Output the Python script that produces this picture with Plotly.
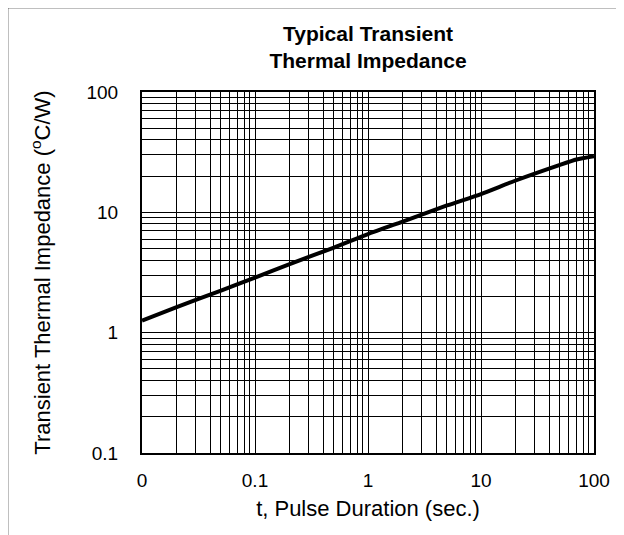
import plotly.graph_objects as go

# Data
t_sec = [0.01, 0.02, 0.05, 0.1, 0.2, 0.5, 1, 2, 5, 10, 20, 50, 70, 100]
z_cw = [1.26, 1.62, 2.24, 2.87, 3.69, 5.1, 6.6, 8.35, 11.4, 14.2, 18.3, 24.8, 27.5, 29.3]

x_major_vals = [0.01, 0.1, 1, 10, 100]
x_major_text = ["0", "0.1", "1", "10", "100"]
y_major_vals = [0.1, 1, 10, 100]
y_major_text = ["0.1", "1", "10", "100"]
x_minor_vals = [m * 10 ** e for e in range(-2, 2) for m in range(2, 10)]
y_minor_vals = [m * 10 ** e for e in range(-1, 2) for m in range(2, 10)]

# page body has an 8px margin in the browser
W, H = 616, 527
L, T, PW, PH = 134, 84, 452, 361

fig = go.Figure()
fig.add_trace(go.Scatter(
    x=t_sec, y=z_cw, mode="lines",
    line=dict(color="black", width=4, shape="spline", smoothing=0.6),
    showlegend=False, hoverinfo="x+y",
))

font = "Liberation Sans, Arial, sans-serif"
grid_minor = dict(showgrid=True, gridcolor="black", gridwidth=1, ticks="")
fig.update_layout(
    width=W, height=H,
    margin=dict(l=L, r=W - L - PW, t=T, b=H - T - PH),
    paper_bgcolor="white", plot_bgcolor="white",
    font=dict(family=font, size=19, color="black"),
    title=dict(
        text="<b>Typical Transient<br>Thermal Impedance</b>",
        x=0.5, xref="paper", xanchor="center",
        y=1 - 33 / H, yanchor="middle",
        font=dict(family=font, size=21, color="black"),
    ),
    xaxis=dict(
        type="log", range=[-2, 2],
        tickmode="array", tickvals=x_major_vals, ticktext=x_major_text,
        minor=dict(tickvals=x_minor_vals, **grid_minor),
        showgrid=True, gridcolor="black", gridwidth=1,
        showline=True, linecolor="black", linewidth=2, mirror=True,
        ticks="", ticklabelstandoff=9,
        zeroline=False,
        title=dict(text="t, Pulse Duration (sec.)", standoff=11,
                   font=dict(family=font, size=22, color="black")),
    ),
    yaxis=dict(
        type="log", range=[-1, 2],
        tickmode="array", tickvals=y_major_vals, ticktext=y_major_text,
        minor=dict(tickvals=y_minor_vals, **grid_minor),
        showgrid=True, gridcolor="black", gridwidth=1,
        showline=True, linecolor="black", linewidth=2, mirror=True,
        ticks="", ticklabelstandoff=18,
        zeroline=False,
        title=dict(text="Transient Thermal Impedance (<sup>o</sup>C/W)", standoff=30,
                   font=dict(family=font, size=22, color="black")),
    ),
)

# outer frame (top and left edges visible in the original image)
fx0 = (-1 - L) / PW
fy_top = 1 + (T + 1) / PH
fig.add_shape(type="line", xref="paper", yref="paper",
              x0=fx0, x1=1.2, y0=fy_top, y1=fy_top,
              line=dict(color="black", width=2.5))
fig.add_shape(type="line", xref="paper", yref="paper",
              x0=fx0, x1=fx0, y0=fy_top, y1=-0.3,
              line=dict(color="black", width=2.5))

fig.write_html("out.html")
